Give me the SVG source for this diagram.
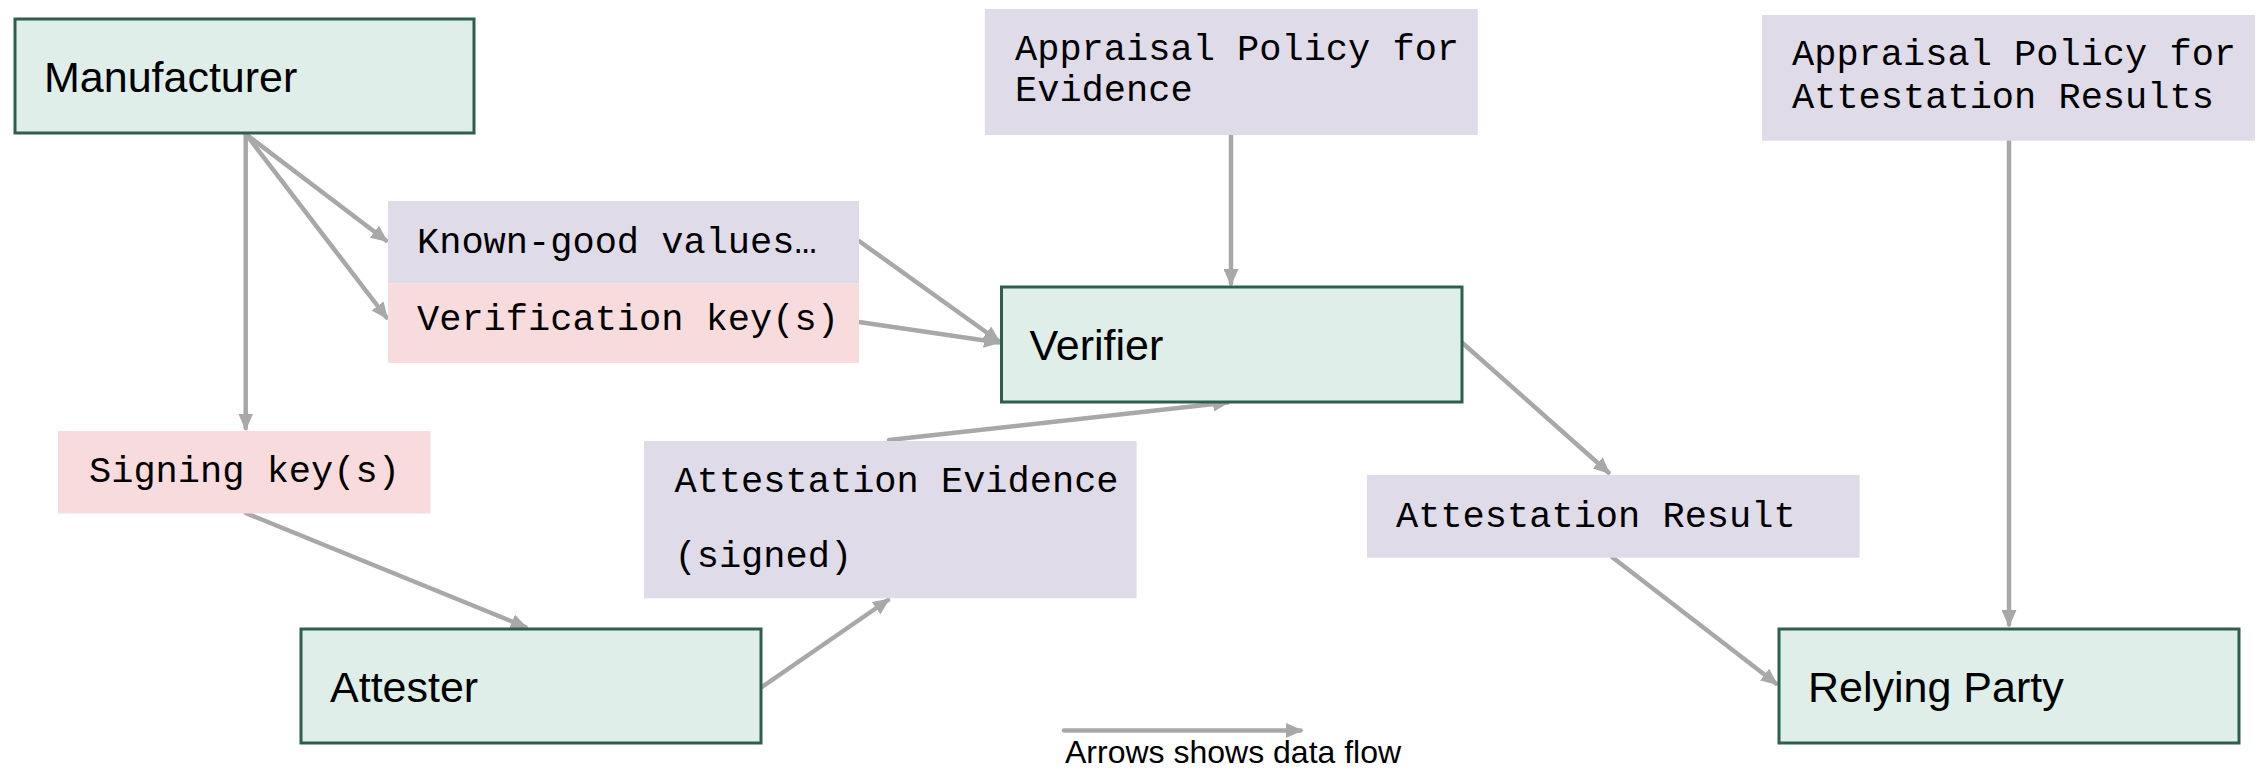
<svg xmlns="http://www.w3.org/2000/svg" width="2264" height="771" viewBox="0 0 2264 771">
<style>
.actor{fill:#dfeee8;stroke:#2e5e4e;stroke-width:3}
.data{fill:#e0dbe9}
.key{fill:#f8dcdd}
.lbl{font-family:"Liberation Sans",Arial,sans-serif;font-size:43px;fill:#000}
.mono{font-family:"Liberation Mono","Courier New",monospace;font-size:37px;fill:#000}
.conn{stroke:#a8a8a8;stroke-width:4.5;fill:none;stroke-linecap:round}
</style>
<defs>
<marker id="ah" markerUnits="userSpaceOnUse" markerWidth="17" markerHeight="15" refX="14.5" refY="7.5" orient="auto">
<path d="M0,0 L17,7.5 L0,15 z" fill="#a8a8a8"/>
</marker>
</defs>
<rect width="2264" height="771" fill="#fff"/>
<g id="connectors">
<line class="conn" x1="245.7" y1="134" x2="245.7" y2="428" marker-end="url(#ah)"/>
<line class="conn" x1="245.7" y1="134" x2="386" y2="240.5" marker-end="url(#ah)"/>
<line class="conn" x1="245.7" y1="134" x2="386.5" y2="317.5" marker-end="url(#ah)"/>
<line class="conn" x1="859" y1="241" x2="998.5" y2="341" marker-end="url(#ah)"/>
<line class="conn" x1="859" y1="322" x2="998.5" y2="342.5" marker-end="url(#ah)"/>
<line class="conn" x1="1231" y1="133" x2="1231" y2="283.5" marker-end="url(#ah)"/>
<line class="conn" x1="245.7" y1="513" x2="525.5" y2="627" marker-end="url(#ah)"/>
<line class="conn" x1="762" y1="687" x2="888" y2="600" marker-end="url(#ah)"/>
<line class="conn" x1="889" y1="440" x2="1227.5" y2="402.5" marker-end="url(#ah)"/>
<line class="conn" x1="1462.5" y1="343" x2="1608.5" y2="472.5" marker-end="url(#ah)"/>
<line class="conn" x1="1612" y1="557" x2="1776" y2="683.5" marker-end="url(#ah)"/>
<line class="conn" x1="2009" y1="141" x2="2009" y2="624.5" marker-end="url(#ah)"/>
<line class="conn" x1="1064" y1="730.5" x2="1300.5" y2="730.5" marker-end="url(#ah)"/>
</g>
<g id="manufacturer">
<rect class="actor" x="15" y="19" width="459" height="114"/>
<text class="lbl" x="44" y="92">Manufacturer</text>
</g>
<g id="verifier">
<rect class="actor" x="1001.5" y="287" width="460.5" height="115"/>
<text class="lbl" x="1029.5" y="360">Verifier</text>
</g>
<g id="attester">
<rect class="actor" x="301" y="629" width="460" height="114"/>
<text class="lbl" x="330" y="701.7">Attester</text>
</g>
<g id="relying-party">
<rect class="actor" x="1779" y="629" width="460" height="114"/>
<text class="lbl" x="1808" y="701.7">Relying Party</text>
</g>
<g id="known-good-values">
<rect class="data" x="388" y="201" width="471" height="82.5"/>
<text class="mono" x="417" y="253">Known-good values…</text>
</g>
<g id="verification-keys">
<rect class="key" x="388" y="283.5" width="471" height="79.5"/>
<text class="mono" x="417" y="330">Verification key(s)</text>
</g>
<g id="signing-keys">
<rect class="key" x="58" y="431" width="372.5" height="82.5"/>
<text class="mono" x="89" y="482">Signing key(s)</text>
</g>
<g id="attestation-evidence">
<rect class="data" x="644" y="441" width="492.6" height="157.3"/>
<text class="mono" x="674.5" y="492">Attestation Evidence</text>
<text class="mono" x="674.5" y="567">(signed)</text>
</g>
<g id="attestation-result">
<rect class="data" x="1367" y="475" width="492.6" height="82.7"/>
<text class="mono" x="1396" y="527">Attestation Result</text>
</g>
<g id="appraisal-policy-evidence">
<rect class="data" x="984.8" y="9" width="493" height="126"/>
<text class="mono" x="1015" y="60">Appraisal Policy for</text>
<text class="mono" x="1015" y="101">Evidence</text>
</g>
<g id="appraisal-policy-results">
<rect class="data" x="1762" y="15" width="493" height="125.7"/>
<text class="mono" x="1792" y="65">Appraisal Policy for</text>
<text class="mono" x="1792" y="108">Attestation Results</text>
</g>
<g id="legend">
<text class="lbl" x="1065" y="763" style="font-size:32px">Arrows shows data flow</text>
</g>
</svg>
